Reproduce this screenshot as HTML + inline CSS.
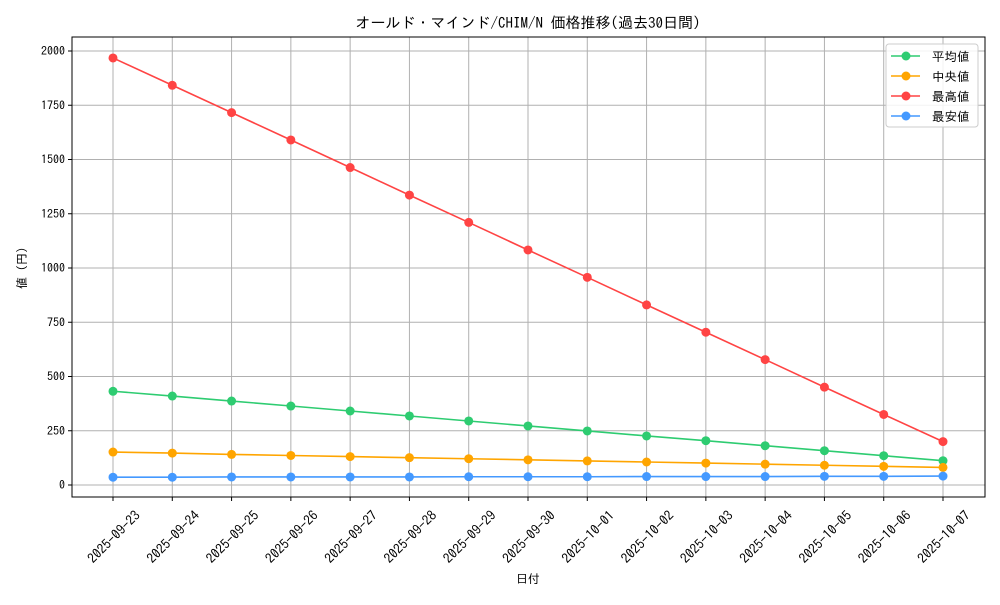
<!DOCTYPE html>
<html><head><meta charset="utf-8"><style>
body{margin:0;background:#fff;}
svg text{font-family:"IPAGothic","Noto Sans CJK JP",sans-serif;fill:#000;}
</style></head><body>
<svg id="c" width="1000" height="600" xmlns="http://www.w3.org/2000/svg"></svg>
<script>
const categories=["2025-09-23","2025-09-24","2025-09-25","2025-09-26","2025-09-27","2025-09-28","2025-09-29","2025-09-30","2025-10-01","2025-10-02","2025-10-03","2025-10-04","2025-10-05","2025-10-06","2025-10-07"];
const avgValues=[432,410,387,364,341,318,295,272,249,226,204,181,158,135,112];
const medianValues=[152,147,141,136,131,126,121,116,111,106,101,96,91,86,81];
const maxValues=[1968,1842,1716,1590,1463,1336,1210,1083,957,830,704,578,451,325,200];
const minValues=[36,36,37,37,37,37,38,38,38,39,39,39,40,40,41];
const yTicks=[0,250,500,750,1000,1250,1500,1750,2000];
const seriesNames=["平均値","中央値","最高値","最安値"];
const NS="http://www.w3.org/2000/svg";
const svg=document.getElementById('c');
const L=72,R=985,T=37,B=497;
const x=i=>113+i*(943-113)/(categories.length-1);
const y=v=>485-v*0.217;
function mk(t,a,p){const e=document.createElementNS(NS,t);for(const k in a)e.setAttribute(k,a[k]);(p||svg).appendChild(e);return e;}
const grid=mk('g',{});


categories.forEach((c,i)=>{mk('line',{x1:x(i),x2:x(i),y1:T,y2:B,stroke:'#b0b0b0','stroke-width':1},grid);
 mk('line',{x1:x(i),x2:x(i),y1:B,y2:B+4,stroke:'#000'},grid);
 const t=mk('text',{x:0,y:4.5,'font-size':13.5,'text-anchor':'middle',transform:`translate(${x(i)+1},537) rotate(-45)`});
 
 
 t.textContent=c;});
yTicks.forEach(v=>{mk('line',{x1:L,x2:R,y1:y(v),y2:y(v),stroke:'#b0b0b0'},grid);
 mk('line',{x1:L-4,x2:L,y1:y(v),y2:y(v),stroke:'#000'},grid);
 const t=mk('text',{x:L-7,y:y(v)+4,'font-size':12,'text-anchor':'end'});
 
 
 t.textContent=v;});
const frame=mk('rect',{x:L,y:T,width:R-L,height:B-T,fill:'none',stroke:'#000'});


const colors=['#2ecc71','#ffa500','#ff4444','#4499ff'];
[avgValues,medianValues,maxValues,minValues].forEach((vals,s)=>{
 const g=mk('g',{});
 
 
 mk('polyline',{points:vals.map((v,i)=>x(i)+','+y(v)).join(' '),fill:'none',stroke:colors[s],'stroke-width':1.6},g);
 vals.forEach((v,i)=>{const c=mk('circle',{cx:x(i),cy:y(v),r:4.5,fill:colors[s]},g);
  
  });
});
const lg=mk('g',{});


mk('rect',{x:886,y:44,width:92,height:83,rx:3,fill:'#fff','fill-opacity':0.85,stroke:'#ccc'},lg);
seriesNames.forEach((n,i)=>{const yy=56+i*20;
 mk('line',{x1:891,x2:920,y1:yy,y2:yy,stroke:colors[i],'stroke-width':1.6},lg);
 mk('circle',{cx:906,cy:yy,r:4.5,fill:colors[i]},lg);
 const t=mk('text',{x:932,y:yy+5,'font-size':12.5},lg);
 
 
 t.textContent=n;});
const title=mk('text',{x:528,y:28,'font-size':15,'text-anchor':'middle'});


title.textContent='オールド・マインド/CHIM/N 価格推移(過去30日間)';
const xt=mk('text',{x:528,y:583,'font-size':12,'text-anchor':'middle'});


xt.textContent='日付';
const yt=mk('text',{x:0,y:0,'font-size':12,'text-anchor':'middle',transform:'translate(26,268) rotate(-90)'});


yt.textContent='値 (円)';
</script>
</body></html>
